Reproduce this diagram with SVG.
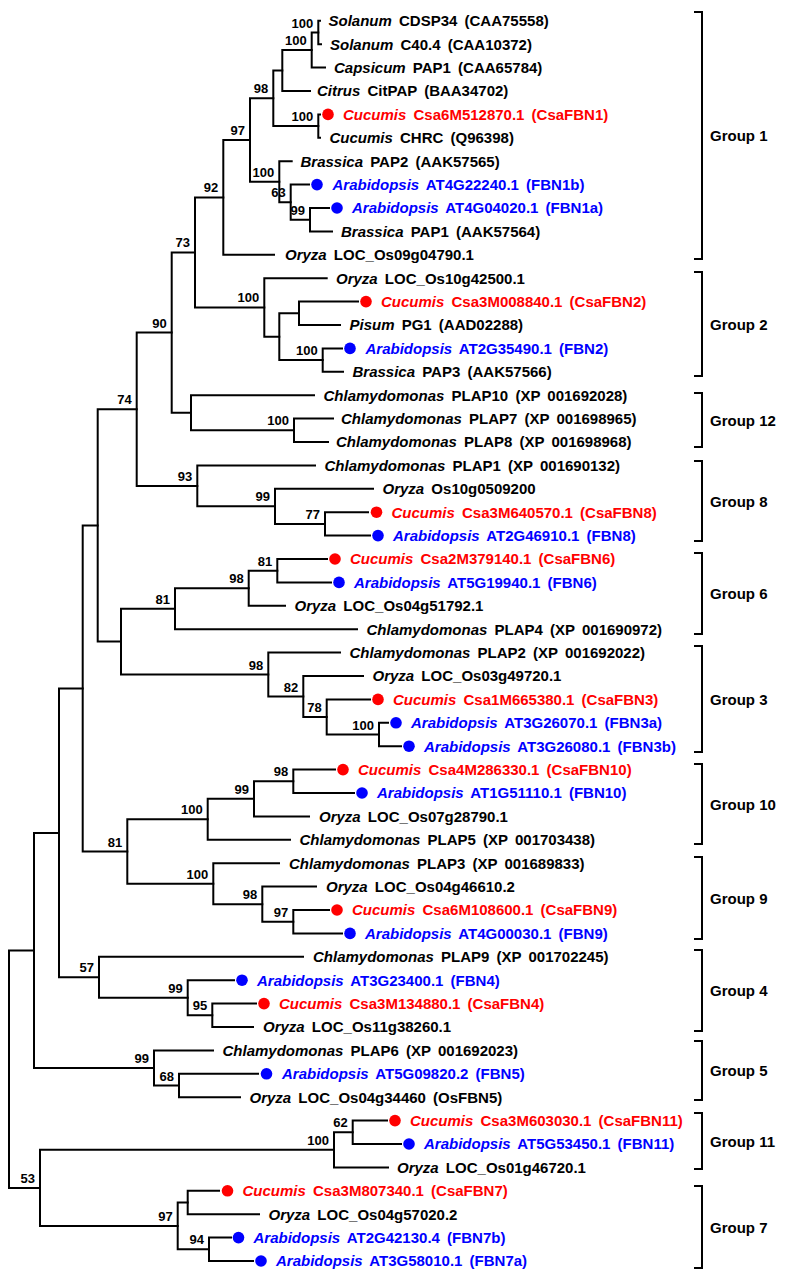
<svg xmlns="http://www.w3.org/2000/svg" width="792" height="1279" viewBox="0 0 792 1279">
<style>
.br{fill:none;stroke:#000;stroke-width:2;stroke-linejoin:miter;stroke-linecap:square}
.bk{fill:none;stroke:#000;stroke-width:2}
text{font-family:"Liberation Sans",Arial,sans-serif;font-weight:bold}
.lf{font-size:15px;fill:#000;word-spacing:3px}
.r{fill:#ff0000}
.b{fill:#0000ff}
.i{font-style:italic}
.bs{font-size:13px;text-anchor:end;fill:#000}
.gl{font-size:15px;fill:#000}
.dr{fill:#ff0000}
.db{fill:#0000ff}
</style>
<rect width="792" height="1279" fill="#fff"/>
<g id="connectors" class="br">
<path d="M320 20.8H318.3V44.2H321"/>
<path d="M318.3 32.5H311.7V67.6H325"/>
<path d="M311.7 50.05H282.3V91H310"/>
<path d="M320 114.4H318.3V137.8H320"/>
<path d="M282.3 70.5H273.3V126.1H318.3"/>
<path d="M329 208H310V231.4H332"/>
<path d="M309 184.6H290.7V219.7H310"/>
<path d="M291.7 161.2H279.3V202.15H290.7"/>
<path d="M273.3 98.3H250V181.7H279.3"/>
<path d="M250 140H223.3V254.8H274"/>
<path d="M358 301.6H299V325H340"/>
<path d="M342 348.4H322.7V371.8H343"/>
<path d="M299 313.3H279.3V360.1H322.7"/>
<path d="M326.7 278.2H264.3V336.7H279.3"/>
<path d="M223.3 197.4H195V307.45H264.3"/>
<path d="M333 418.6H294V442H328"/>
<path d="M314 395.2H191V430.3H294"/>
<path d="M195 252.4H171.7V412.75H191"/>
<path d="M368 512.2H325V535.6H370"/>
<path d="M373 488.8H275V523.9H325"/>
<path d="M315 465.4H197.3V506.35H275"/>
<path d="M171.7 332.6H136.7V485.9H197.3"/>
<path d="M327 559H277.3V582.4H331"/>
<path d="M277.3 570.7H248.7V605.8H285"/>
<path d="M248.7 588.25H175V629.2H357"/>
<path d="M388 722.8H379V746.2H401"/>
<path d="M370 699.4H326.7V734.5H379"/>
<path d="M363 676H303.3V716.95H326.7"/>
<path d="M340 652.6H268.3V696.5H303.3"/>
<path d="M175 608.7H121V674.55H268.3"/>
<path d="M136.7 409.25H97.7V641.6H121"/>
<path d="M335 769.6H293.3V793H354"/>
<path d="M293.3 781.3H254V816.4H309"/>
<path d="M254 798.85H207.7V839.8H290"/>
<path d="M329 910H293.3V933.4H342"/>
<path d="M316 886.6H262.3V921.7H293.3"/>
<path d="M279 863.2H213.3V904.15H262.3"/>
<path d="M207.7 819.3H127.3V883.7H213.3"/>
<path d="M97.7 525.4H82.7V851.5H127.3"/>
<path d="M256 1003.6H212.3V1027H253"/>
<path d="M234 980.2H187.7V1015.3H212.3"/>
<path d="M303 956.8H99V997.75H187.7"/>
<path d="M82.7 688.45H59V977.3H99"/>
<path d="M258 1073.8H179V1097.2H240"/>
<path d="M213 1050.4H154V1085.5H179"/>
<path d="M59 832.9H34V1067.95H154"/>
<path d="M387 1120.6H352.7V1144H401"/>
<path d="M352.7 1132.3H334V1167.4H388"/>
<path d="M219 1190.8H187.7V1214.2H259"/>
<path d="M231 1237.6H209V1261H253"/>
<path d="M187.7 1202.5H177.7V1249.3H209"/>
<path d="M334 1149.85H40V1225.9H177.7"/>
<path d="M34 950.4H9V1187.9H40"/>
</g>
<g id="bootstrap">
<text class="bs" x="313.3" y="27.5">100</text>
<text class="bs" x="306.7" y="45">100</text>
<text class="bs" x="313.3" y="121.1">100</text>
<text class="bs" x="268.3" y="93.3">98</text>
<text class="bs" x="305" y="214.7">99</text>
<text class="bs" x="285.7" y="197.2">63</text>
<text class="bs" x="274.3" y="176.7">100</text>
<text class="bs" x="245" y="135">97</text>
<text class="bs" x="218.3" y="192.4">92</text>
<text class="bs" x="317.7" y="355.1">100</text>
<text class="bs" x="259.3" y="302.45">100</text>
<text class="bs" x="190" y="247.4">73</text>
<text class="bs" x="289" y="425.3">100</text>
<text class="bs" x="166.7" y="327.6">90</text>
<text class="bs" x="320" y="518.9">77</text>
<text class="bs" x="270" y="501.35">99</text>
<text class="bs" x="192.3" y="480.9">93</text>
<text class="bs" x="131.7" y="404.25">74</text>
<text class="bs" x="272.3" y="565.7">81</text>
<text class="bs" x="243.7" y="583.25">98</text>
<text class="bs" x="170" y="603.7">81</text>
<text class="bs" x="374" y="729.5">100</text>
<text class="bs" x="321.7" y="711.95">78</text>
<text class="bs" x="298.3" y="691.5">82</text>
<text class="bs" x="263.3" y="669.55">98</text>
<text class="bs" x="288.3" y="776.3">98</text>
<text class="bs" x="249" y="793.85">99</text>
<text class="bs" x="202.7" y="814.3">100</text>
<text class="bs" x="288.3" y="916.7">97</text>
<text class="bs" x="257.3" y="899.15">98</text>
<text class="bs" x="208.3" y="878.7">100</text>
<text class="bs" x="122.3" y="846.5">81</text>
<text class="bs" x="207.3" y="1010.3">95</text>
<text class="bs" x="182.7" y="992.75">99</text>
<text class="bs" x="94" y="972.3">57</text>
<text class="bs" x="174" y="1080.5">68</text>
<text class="bs" x="149" y="1062.95">99</text>
<text class="bs" x="347.7" y="1127.3">62</text>
<text class="bs" x="329" y="1144.85">100</text>
<text class="bs" x="204" y="1244.3">94</text>
<text class="bs" x="172.7" y="1220.9">97</text>
<text class="bs" x="35" y="1182.9">53</text>
</g>
<g id="leaf0"><text class="lf" x="328.5" y="26.1"><tspan class="i">Solanum</tspan> CDSP34 (CAA75558)</text></g>
<g id="leaf1"><text class="lf" x="330" y="49.5"><tspan class="i">Solanum</tspan> C40.4 (CAA10372)</text></g>
<g id="leaf2"><text class="lf" x="334" y="72.9"><tspan class="i">Capsicum</tspan> PAP1 (CAA65784)</text></g>
<g id="leaf3"><text class="lf" x="317" y="96.3"><tspan class="i">Citrus</tspan> CitPAP (BAA34702)</text></g>
<g id="leaf4"><circle class="dr" cx="328" cy="114.4" r="5.8"/><text class="lf r" x="343" y="119.7"><tspan class="i">Cucumis</tspan> Csa6M512870.1 (CsaFBN1)</text></g>
<g id="leaf5"><text class="lf" x="329.5" y="143.1"><tspan class="i">Cucumis</tspan> CHRC (Q96398)</text></g>
<g id="leaf6"><text class="lf" x="300.5" y="166.5"><tspan class="i">Brassica</tspan> PAP2 (AAK57565)</text></g>
<g id="leaf7"><circle class="db" cx="317" cy="184.6" r="5.8"/><text class="lf b" x="332.5" y="189.9"><tspan class="i">Arabidopsis</tspan> AT4G22240.1 (FBN1b)</text></g>
<g id="leaf8"><circle class="db" cx="337" cy="208" r="5.8"/><text class="lf b" x="352" y="213.3"><tspan class="i">Arabidopsis</tspan> AT4G04020.1 (FBN1a)</text></g>
<g id="leaf9"><text class="lf" x="341" y="236.7"><tspan class="i">Brassica</tspan> PAP1 (AAK57564)</text></g>
<g id="leaf10"><text class="lf" x="285" y="260.1"><tspan class="i">Oryza</tspan> LOC_Os09g04790.1</text></g>
<g id="leaf11"><text class="lf" x="336" y="283.5"><tspan class="i">Oryza</tspan> LOC_Os10g42500.1</text></g>
<g id="leaf12"><circle class="dr" cx="366" cy="301.6" r="5.8"/><text class="lf r" x="381" y="306.9"><tspan class="i">Cucumis</tspan> Csa3M008840.1 (CsaFBN2)</text></g>
<g id="leaf13"><text class="lf" x="349.5" y="330.3"><tspan class="i">Pisum</tspan> PG1 (AAD02288)</text></g>
<g id="leaf14"><circle class="db" cx="350" cy="348.4" r="5.8"/><text class="lf b" x="365.5" y="353.7"><tspan class="i">Arabidopsis</tspan> AT2G35490.1 (FBN2)</text></g>
<g id="leaf15"><text class="lf" x="352.5" y="377.1"><tspan class="i">Brassica</tspan> PAP3 (AAK57566)</text></g>
<g id="leaf16"><text class="lf" x="323.5" y="400.5"><tspan class="i">Chlamydomonas</tspan> PLAP10 (XP 001692028)</text></g>
<g id="leaf17"><text class="lf" x="341" y="423.9"><tspan class="i">Chlamydomonas</tspan> PLAP7 (XP 001698965)</text></g>
<g id="leaf18"><text class="lf" x="336" y="447.3"><tspan class="i">Chlamydomonas</tspan> PLAP8 (XP 001698968)</text></g>
<g id="leaf19"><text class="lf" x="324.5" y="470.7"><tspan class="i">Chlamydomonas</tspan> PLAP1 (XP 001690132)</text></g>
<g id="leaf20"><text class="lf" x="382.5" y="494.1"><tspan class="i">Oryza</tspan> Os10g0509200</text></g>
<g id="leaf21"><circle class="dr" cx="376.5" cy="512.2" r="5.8"/><text class="lf r" x="391.5" y="517.5"><tspan class="i">Cucumis</tspan> Csa3M640570.1 (CsaFBN8)</text></g>
<g id="leaf22"><circle class="db" cx="378" cy="535.6" r="5.8"/><text class="lf b" x="393" y="540.9"><tspan class="i">Arabidopsis</tspan> AT2G46910.1 (FBN8)</text></g>
<g id="leaf23"><circle class="dr" cx="335" cy="559" r="5.8"/><text class="lf r" x="350" y="564.3"><tspan class="i">Cucumis</tspan> Csa2M379140.1 (CsaFBN6)</text></g>
<g id="leaf24"><circle class="db" cx="339" cy="582.4" r="5.8"/><text class="lf b" x="354" y="587.7"><tspan class="i">Arabidopsis</tspan> AT5G19940.1 (FBN6)</text></g>
<g id="leaf25"><text class="lf" x="294.5" y="611.1"><tspan class="i">Oryza</tspan> LOC_Os04g51792.1</text></g>
<g id="leaf26"><text class="lf" x="366.5" y="634.5"><tspan class="i">Chlamydomonas</tspan> PLAP4 (XP 001690972)</text></g>
<g id="leaf27"><text class="lf" x="349.5" y="657.9"><tspan class="i">Chlamydomonas</tspan> PLAP2 (XP 001692022)</text></g>
<g id="leaf28"><text class="lf" x="372.5" y="681.3"><tspan class="i">Oryza</tspan> LOC_Os03g49720.1</text></g>
<g id="leaf29"><circle class="dr" cx="378" cy="699.4" r="5.8"/><text class="lf r" x="393" y="704.7"><tspan class="i">Cucumis</tspan> Csa1M665380.1 (CsaFBN3)</text></g>
<g id="leaf30"><circle class="db" cx="396" cy="722.8" r="5.8"/><text class="lf b" x="411" y="728.1"><tspan class="i">Arabidopsis</tspan> AT3G26070.1 (FBN3a)</text></g>
<g id="leaf31"><circle class="db" cx="409" cy="746.2" r="5.8"/><text class="lf b" x="424" y="751.5"><tspan class="i">Arabidopsis</tspan> AT3G26080.1 (FBN3b)</text></g>
<g id="leaf32"><circle class="dr" cx="343" cy="769.6" r="5.8"/><text class="lf r" x="358" y="774.9"><tspan class="i">Cucumis</tspan> Csa4M286330.1 (CsaFBN10)</text></g>
<g id="leaf33"><circle class="db" cx="362" cy="793" r="5.8"/><text class="lf b" x="377" y="798.3"><tspan class="i">Arabidopsis</tspan> AT1G51110.1 (FBN10)</text></g>
<g id="leaf34"><text class="lf" x="319" y="821.7"><tspan class="i">Oryza</tspan> LOC_Os07g28790.1</text></g>
<g id="leaf35"><text class="lf" x="299.5" y="845.1"><tspan class="i">Chlamydomonas</tspan> PLAP5 (XP 001703438)</text></g>
<g id="leaf36"><text class="lf" x="289" y="868.5"><tspan class="i">Chlamydomonas</tspan> PLAP3 (XP 001689833)</text></g>
<g id="leaf37"><text class="lf" x="326" y="891.9"><tspan class="i">Oryza</tspan> LOC_Os04g46610.2</text></g>
<g id="leaf38"><circle class="dr" cx="337" cy="910" r="5.8"/><text class="lf r" x="352" y="915.3"><tspan class="i">Cucumis</tspan> Csa6M108600.1 (CsaFBN9)</text></g>
<g id="leaf39"><circle class="db" cx="350" cy="933.4" r="5.8"/><text class="lf b" x="365" y="938.7"><tspan class="i">Arabidopsis</tspan> AT4G00030.1 (FBN9)</text></g>
<g id="leaf40"><text class="lf" x="313" y="962.1"><tspan class="i">Chlamydomonas</tspan> PLAP9 (XP 001702245)</text></g>
<g id="leaf41"><circle class="db" cx="242" cy="980.2" r="5.8"/><text class="lf b" x="257" y="985.5"><tspan class="i">Arabidopsis</tspan> AT3G23400.1 (FBN4)</text></g>
<g id="leaf42"><circle class="dr" cx="264" cy="1003.6" r="5.8"/><text class="lf r" x="279" y="1008.9"><tspan class="i">Cucumis</tspan> Csa3M134880.1 (CsaFBN4)</text></g>
<g id="leaf43"><text class="lf" x="263" y="1032.3"><tspan class="i">Oryza</tspan> LOC_Os11g38260.1</text></g>
<g id="leaf44"><text class="lf" x="222.5" y="1055.7"><tspan class="i">Chlamydomonas</tspan> PLAP6 (XP 001692023)</text></g>
<g id="leaf45"><circle class="db" cx="266.5" cy="1073.8" r="5.8"/><text class="lf b" x="282" y="1079.1"><tspan class="i">Arabidopsis</tspan> AT5G09820.2 (FBN5)</text></g>
<g id="leaf46"><text class="lf" x="249.5" y="1102.5"><tspan class="i">Oryza</tspan> LOC_Os04g34460 (OsFBN5)</text></g>
<g id="leaf47"><circle class="dr" cx="395" cy="1120.6" r="5.8"/><text class="lf r" x="410" y="1125.9"><tspan class="i">Cucumis</tspan> Csa3M603030.1 (CsaFBN11)</text></g>
<g id="leaf48"><circle class="db" cx="409" cy="1144" r="5.8"/><text class="lf b" x="424" y="1149.3"><tspan class="i">Arabidopsis</tspan> AT5G53450.1 (FBN11)</text></g>
<g id="leaf49"><text class="lf" x="397" y="1172.7"><tspan class="i">Oryza</tspan> LOC_Os01g46720.1</text></g>
<g id="leaf50"><circle class="dr" cx="227.5" cy="1190.8" r="5.8"/><text class="lf r" x="242.5" y="1196.1"><tspan class="i">Cucumis</tspan> Csa3M807340.1 (CsaFBN7)</text></g>
<g id="leaf51"><text class="lf" x="268.5" y="1219.5"><tspan class="i">Oryza</tspan> LOC_Os04g57020.2</text></g>
<g id="leaf52"><circle class="db" cx="238.5" cy="1237.6" r="5.8"/><text class="lf b" x="253.5" y="1242.9"><tspan class="i">Arabidopsis</tspan> AT2G42130.4 (FBN7b)</text></g>
<g id="leaf53"><circle class="db" cx="261" cy="1261" r="5.8"/><text class="lf b" x="276" y="1266.3"><tspan class="i">Arabidopsis</tspan> AT3G58010.1 (FBN7a)</text></g>
<g id="group1"><path class="bk" d="M694 12H702V259H694"/><text class="gl" x="710" y="141">Group 1</text></g>
<g id="group2"><path class="bk" d="M694 272H702V376H694"/><text class="gl" x="710" y="329.5">Group 2</text></g>
<g id="group12"><path class="bk" d="M694 393H702V447H694"/><text class="gl" x="710" y="425.5">Group 12</text></g>
<g id="group8"><path class="bk" d="M694 461H702V541H694"/><text class="gl" x="710" y="506.5">Group 8</text></g>
<g id="group6"><path class="bk" d="M694 553H702V634H694"/><text class="gl" x="710" y="599">Group 6</text></g>
<g id="group3"><path class="bk" d="M694 646H702V752H694"/><text class="gl" x="710" y="704.5">Group 3</text></g>
<g id="group10"><path class="bk" d="M694 764H702V844H694"/><text class="gl" x="710" y="809.5">Group 10</text></g>
<g id="group9"><path class="bk" d="M694 857H702V939H694"/><text class="gl" x="710" y="903.5">Group 9</text></g>
<g id="group4"><path class="bk" d="M694 950H702V1031H694"/><text class="gl" x="710" y="996">Group 4</text></g>
<g id="group5"><path class="bk" d="M694 1041H702V1100H694"/><text class="gl" x="710" y="1076">Group 5</text></g>
<g id="group11"><path class="bk" d="M694 1113H702V1169H694"/><text class="gl" x="710" y="1146.5">Group 11</text></g>
<g id="group7"><path class="bk" d="M694 1186H702V1268H694"/><text class="gl" x="710" y="1232.5">Group 7</text></g>
</svg>
